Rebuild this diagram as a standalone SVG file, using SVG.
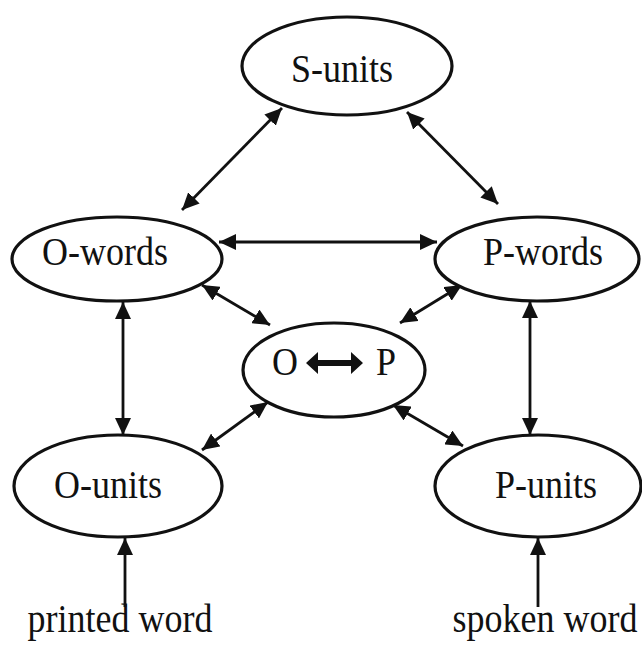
<svg xmlns="http://www.w3.org/2000/svg" width="642" height="648" viewBox="0 0 642 648">
  <style>
    .node ellipse { fill: #ffffff; stroke: #111111; stroke-width: 3.2; }
    .label { font-family: "Liberation Serif", "Times New Roman", serif; font-size: 36px; fill: #111111; text-anchor: middle; }
    .conn line { stroke: #111111; stroke-width: 2.8; }
    .two { marker-start: url(#head); marker-end: url(#head); }
    .one { marker-end: url(#head); }
  </style>
  <defs>
    <marker id="head" markerUnits="userSpaceOnUse" markerWidth="18" markerHeight="16" refX="17" refY="8" orient="auto-start-reverse">
      <path d="M0,0 L17,8 L0,16 Z" fill="#111111"/>
    </marker>
  </defs>
  <rect width="642" height="648" fill="#ffffff"/>

  <g id="connectors" class="conn">
    <line class="two" x1="282" y1="108" x2="182" y2="210"/>
    <line class="two" x1="407" y1="112" x2="498" y2="204"/>
    <line class="two" x1="219" y1="242" x2="437" y2="242"/>
    <line class="two" x1="202" y1="285" x2="270" y2="325"/>
    <line class="two" x1="462" y1="285" x2="400" y2="323"/>
    <line class="two" x1="268" y1="402" x2="202" y2="450"/>
    <line class="two" x1="393" y1="405" x2="463" y2="446"/>
    <line class="two" x1="123" y1="302" x2="123" y2="435"/>
    <line class="two" x1="530" y1="301" x2="530" y2="435"/>
    <line class="one" x1="125" y1="607" x2="125" y2="538"/>
    <line class="one" x1="538" y1="607" x2="538" y2="538"/>
  </g>

  <g id="s-units" class="node">
    <ellipse cx="347" cy="66" rx="105" ry="49"/>
    <text class="label" transform="translate(342 82) scale(1 1.12)">S-units</text>
  </g>
  <g id="o-words" class="node">
    <ellipse cx="117" cy="259" rx="105" ry="42"/>
    <text class="label" transform="translate(105 265) scale(1 1.12)">O-words</text>
  </g>
  <g id="p-words" class="node">
    <ellipse cx="537" cy="259" rx="102" ry="42"/>
    <text class="label" transform="translate(543 265) scale(1 1.12)">P-words</text>
  </g>
  <g id="o-p" class="node">
    <ellipse cx="334" cy="370" rx="91" ry="47"/>
    <text class="label" transform="translate(285 375) scale(1 1.12)">O</text>
    <text class="label" transform="translate(386 375) scale(1 1.12)">P</text>
    <path d="M306,363 L318,352 L318,360 L351,360 L351,352 L363,363 L351,374 L351,366 L318,366 L318,374 Z" fill="#111111"/>
  </g>
  <g id="o-units" class="node">
    <ellipse cx="118" cy="486" rx="104" ry="51"/>
    <text class="label" transform="translate(108 498) scale(1 1.12)">O-units</text>
  </g>
  <g id="p-units" class="node">
    <ellipse cx="538" cy="486" rx="103" ry="51"/>
    <text class="label" transform="translate(546 498) scale(1 1.12)">P-units</text>
  </g>
  <g id="printed-word">
    <text class="label" transform="translate(120 632) scale(1 1.12)">printed word</text>
  </g>
  <g id="spoken-word">
    <text class="label" transform="translate(545 632) scale(1 1.12)">spoken word</text>
  </g>
</svg>
